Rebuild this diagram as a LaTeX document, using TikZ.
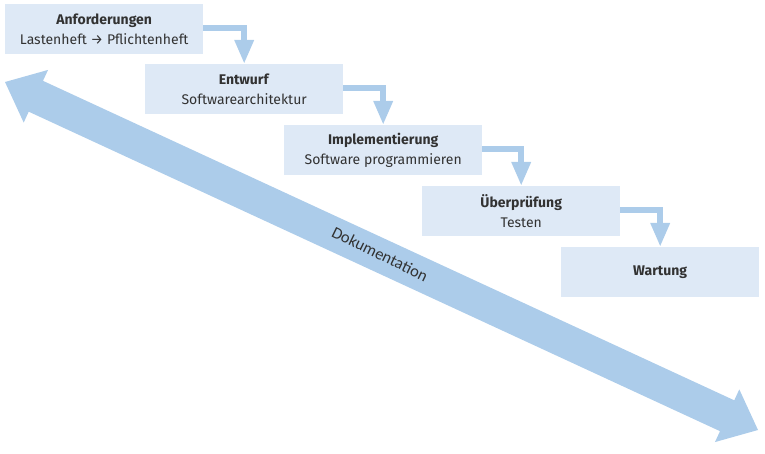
\documentclass[tikz,border=0pt]{standalone}
\usepackage{fontspec}
\setmainfont{Fira Sans}
\newfontfamily\docfont{Carlito}
\usetikzlibrary{arrows.meta}
\definecolor{boxfill}{RGB}{222,233,246}
\definecolor{arrowblue}{RGB}{172,204,234}
\definecolor{txt}{RGB}{50,50,50}
\begin{document}
\begin{tikzpicture}[x=1pt,y=-1pt,
  phase/.style={fill=boxfill, minimum width=198pt, minimum height=50pt, inner sep=0pt,
    align=center, font=\fontsize{14}{20}\selectfont, text=txt, anchor=north west},
  flow/.style={draw=arrowblue, line width=6pt, line join=miter,
    -{Triangle[length=24pt,width=18pt]}},
  docarrow/.style={fill=arrowblue},
  doclabel/.style={font=\docfont\fontsize{16.5}{17}\selectfont, text=txt, rotate=-26}]
\useasboundingbox (0,0) rectangle (765,454);
% Dokumentation double arrow
\fill[docarrow] (5,82) -- (48.04,69.93) -- (43.0,80.83) -- (734.26,400.31) -- (739.3,389.4)
  -- (758,430) -- (714.96,442.07) -- (720.0,431.17) -- (28.74,111.69) -- (23.70,122.59) -- cycle;
\node[doclabel] (doc) at (380,254) {Dokumentation};
% phases
\node[phase] (p1) at (5,4)   {\textbf{Anforderungen}\\Lastenheft → Pflichtenheft};
\node[phase] (p2) at (145,64)  {\textbf{Entwurf}\\Softwarearchitektur};
\node[phase] (p3) at (284,125) {\textbf{Implementierung}\\Software programmieren};
\node[phase] (p4) at (422,186) {\textbf{Überprüfung}\\Testen};
\node[phase] (p5) at (561,247) {\textbf{Wartung}};
% flow connectors
\draw[flow] ([yshift=1pt]p1.east) -| (p2.north);
\draw[flow] ([yshift=1pt]p2.east) -| (p3.north);
\draw[flow] ([yshift=1pt]p3.east) -| (p4.north);
\draw[flow] ([yshift=1pt]p4.east) -| (p5.north);
\end{tikzpicture}
\end{document}
